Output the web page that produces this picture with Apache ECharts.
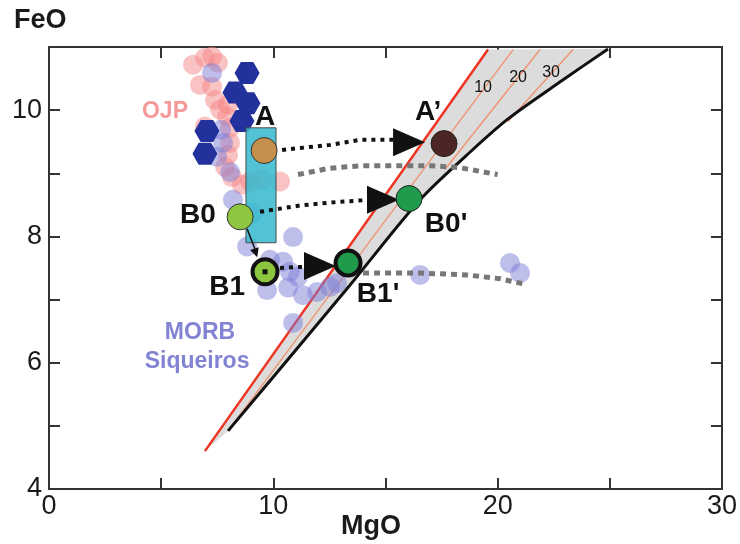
<!DOCTYPE html>
<html lang="en">
<head>
    <meta charset="UTF-8">
    <title>FeO - MgO</title>
    <script src="https://cdn.jsdelivr.net/npm/echarts@6/dist/echarts.min.js"></script>
</head>
<body style="margin:0;background:#fff">
<div id="myChart" style="width: 740px;height: 544px;"></div>
<script>
    // OJP glasses (pink)
    var ojp = [[6.42,10.72],[6.95,10.83],[7.27,10.85],[7.53,10.75],[6.73,10.40],[7.27,10.37],
        [7.40,10.16],[7.62,10.01],[7.98,10.09],[7.94,9.90],[6.95,9.74],[8.07,9.72],[8.07,9.48],
        [7.98,9.29],[7.85,9.10],[8.16,8.94],[8.60,8.82],[8.96,8.87],[9.50,8.90],[10.30,8.87]];
    // MORB Siqueiros (blue-violet)
    var morb = [[7.27,10.59],[7.67,9.69],[7.76,9.48],[7.49,9.26],[8.07,9.02],[8.20,8.58],[8.83,7.84],
        [9.09,8.37],[10.88,7.99],[9.85,7.63],[10.43,7.60],[10.74,7.44],[11.10,7.36],[9.72,7.15],
        [10.66,7.19],[11.32,7.07],[11.95,7.12],[12.53,7.20],[12.84,7.26],[10.88,6.63],[16.54,7.39],
        [20.55,7.58],[21.0,7.42]];
    // dark blue hexagons
    var hexPts = [[8.83,10.59],[8.29,10.28],[8.87,10.11],[8.60,9.83],[7.04,9.67],[6.95,9.31]];

    // olivine control lines
    var redLine = [[6.95,4.60],[19.57,10.96]];
    var blackCurve = [[7.98,4.92],[11.19,6.28],[13.42,7.23],[16.54,8.58],[18.6,9.28],[20.42,9.85],[22.92,10.48],[24.92,10.97]];
    var iso10 = [[7.98,4.92],[20.69,10.96]];
    var iso20 = [[17.65,9.06],[21.89,10.96]];
    var iso30 = [[20.46,9.82],[23.36,10.96]];
    var isoLabels = [[19.35,10.36,'10'],[20.91,10.51,'20'],[22.38,10.59,'30']];

    // box A-B0
    var boxA = [[8.78,9.72,10.12,7.90]];

    // key points
    var ptA = [9.59,9.36], ptB0 = [8.52,8.31], ptB1 = [9.63,7.44];
    var ptA2 = [17.61,9.47], ptB02 = [16.05,8.60], ptB12 = [13.33,7.58];

    // dotted paths and arrow heads
    var pathA = [[10.39,9.37],[12.53,9.45],[13.87,9.53],[15.43,9.53]];
    var pathB0 = [[9.41,8.39],[11.19,8.49],[12.97,8.55],[14.4,8.58]];
    var pathB1 = [[10.3,7.50],[11.41,7.52]];
    var heads = [[16.05,9.49],[14.89,8.58],[12.08,7.53]];
    var pathB0B1 = [[8.83,8.12],[9.18,7.80]];
    var headB0B1 = [[9.22,7.74]];

    // gray dashed trends
    var trendA = [[11.1,8.98],[12.5,9.08],[13.9,9.12],[17.0,9.12],[18.3,9.09],[20.0,8.98]];
    var trendB1 = [[14.0,7.42],[16.54,7.42],[18.64,7.39],[20.11,7.33],[21.13,7.25]];

    // annotations
    var tags = [[9.63,9.88,'A'],[16.9,9.97,'A’'],[6.64,8.34,'B0'],[17.7,8.2,"B0'"],
        [7.94,7.19,'B1'],[14.67,7.09,"B1'"]];
    var groupTags = [[5.17,9.97,'OJP','#f59a9a'],[6.73,6.47,'MORB','#8383d4'],[6.6,6.01,'Siqueiros','#8383d4']];

    var bandPoly = redLine.concat(blackCurve.slice().reverse());
    var hexagon = 'path://M5,0 L15,0 L20,8.66 L15,17.32 L5,17.32 L0,8.66 Z';

    function lineSeries(data, color, width, type, z, smooth) {
        return {
            type: 'line', data: data, showSymbol: false, symbol: 'none', silent: true, z: z,
            smooth: smooth || false,
            lineStyle: {color: color, width: width, type: type}
        };
    }

    function textSeries(data, size, weight, color) {
        return {
            type: 'scatter', silent: true, z: 12, symbolSize: 0, data: data,
            itemStyle: {opacity: 1},
            label: {show: true, position: 'inside', formatter: function (p) { return p.value[2]; },
                fontSize: size, fontWeight: weight, fontFamily: 'Liberation Sans', color: color, opacity: 1}
        };
    }

    var axisCommon = {
        axisLine: {onZero: false, lineStyle: {color: '#333', width: 2}},
        axisTick: {inside: true, length: 11, lineStyle: {color: '#333', width: 2}},
        splitLine: {show: false}
    };

    var myChart = echarts.init(document.getElementById('myChart'));
    var option = {
        animation: false,
        grid: {left: 49, right: 18, top: 47, bottom: 55},
        xAxis: [
            Object.assign({type: 'value', min: 0, max: 30, interval: 5,
                axisLabel: {fontSize: 27, color: '#1a1a1a', margin: 4, fontFamily: 'Liberation Sans',
                    formatter: function (v) { return v % 10 === 0 ? v : ''; }}}, axisCommon),
            Object.assign({type: 'value', min: 0, max: 30, interval: 5, position: 'top',
                axisLabel: {show: false}}, axisCommon)
        ],
        yAxis: [
            Object.assign({type: 'value', min: 4, max: 11, interval: 1,
                axisLabel: {fontSize: 27, color: '#1a1a1a', margin: 7, fontFamily: 'Liberation Sans',
                    formatter: function (v) { return (v % 2 === 0 && v < 11) ? v : ''; }}}, axisCommon),
            Object.assign({type: 'value', min: 4, max: 11, interval: 1, position: 'right',
                axisLabel: {show: false}}, axisCommon)
        ],
        graphic: [
            {type: 'text', left: 14, top: 7, style: {text: 'FeO', fontSize: 27, fontWeight: 'bold',
                fontFamily: 'Liberation Sans', fill: '#1a1a1a'}},
            {type: 'text', left: 341, top: 513, style: {text: 'MgO', fontSize: 27, fontWeight: 'bold',
                fontFamily: 'Liberation Sans', fill: '#1a1a1a'}}
        ],
        series: [
            {
                type: 'custom', silent: true, z: 1, data: [0],
                renderItem: function (params, api) {
                    var pts = bandPoly.map(function (p) { return api.coord(p); });
                    return {type: 'polygon', shape: {points: pts}, style: {fill: '#dcdcdc'}};
                }
            },
            lineSeries(iso10, '#f0906e', 1.3, 'solid', 2),
            lineSeries(iso20, '#f0906e', 1.3, 'solid', 2),
            lineSeries(iso30, '#f0906e', 1.3, 'solid', 2),
            lineSeries(redLine, '#ee3322', 2.5, 'solid', 3),
            lineSeries(blackCurve, '#111', 3, 'solid', 3, 0.3),
            {
                type: 'scatter', data: ojp, symbolSize: 20, silent: true, z: 4,
                itemStyle: {color: 'rgba(245,130,130,0.48)', opacity: 1}
            },
            {
                type: 'scatter', data: morb, symbolSize: 20, silent: true, z: 4,
                itemStyle: {color: 'rgba(125,125,215,0.5)', opacity: 1}
            },
            {
                type: 'scatter', data: hexPts, symbol: hexagon, symbolSize: [25, 22], silent: true, z: 5,
                itemStyle: {color: '#22319b', opacity: 1}
            },
            {
                type: 'custom', silent: true, z: 6, data: boxA,
                renderItem: function (params, api) {
                    var p0 = api.coord([api.value(0), api.value(1)]);
                    var p1 = api.coord([api.value(2), api.value(3)]);
                    return {type: 'rect', shape: {x: p0[0], y: p0[1], width: p1[0] - p0[0], height: p1[1] - p0[1]},
                        style: {fill: 'rgba(55,186,206,0.87)', stroke: '#4a4a4a', lineWidth: 1}};
                }
            },
            lineSeries(trendA, '#777', 5, [6, 5], 7),
            lineSeries(trendB1, '#777', 5, [6, 5], 7),
            lineSeries(pathA, '#111', 4, [4, 5], 8),
            lineSeries(pathB0, '#111', 4, [4, 5], 8),
            lineSeries(pathB1, '#111', 4, [4, 5], 8),
            lineSeries(pathB0B1, '#111', 1.5, 'solid', 8),
            {
                type: 'scatter', data: heads, symbol: 'triangle', symbolRotate: -90, symbolSize: [28, 32],
                silent: true, z: 9, itemStyle: {color: '#111', opacity: 1}
            },
            {
                type: 'scatter', data: headB0B1, symbol: 'triangle', symbolRotate: 198, symbolSize: [9, 9],
                silent: true, z: 9, itemStyle: {color: '#111', opacity: 1}
            },
            {
                type: 'scatter', silent: true, z: 10, symbolSize: 26,
                data: [
                    {value: ptA, itemStyle: {color: '#c4904b', borderColor: '#333', borderWidth: 1, opacity: 1}},
                    {value: ptB0, itemStyle: {color: '#8fc641', borderColor: '#333', borderWidth: 1, opacity: 1}},
                    {value: ptA2, itemStyle: {color: '#4b2624', borderColor: '#222', borderWidth: 1, opacity: 1}},
                    {value: ptB02, itemStyle: {color: '#1f9b4b', borderColor: '#222', borderWidth: 1, opacity: 1}},
                    {value: ptB1, symbolSize: 25, itemStyle: {color: '#8cc63f', borderColor: '#111', borderWidth: 4, opacity: 1}},
                    {value: ptB12, symbolSize: 25, itemStyle: {color: '#1f9b4b', borderColor: '#111', borderWidth: 4, opacity: 1}}
                ]
            },
            {
                type: 'scatter', silent: true, z: 11, symbol: 'rect', symbolSize: 5,
                data: [ptB1], itemStyle: {color: '#111', opacity: 1}
            },
            textSeries(tags, 28, 'bold', '#111'),
            textSeries(isoLabels, 16, 'normal', '#111'),
            {
                type: 'scatter', silent: true, z: 12, symbolSize: 0,
                itemStyle: {opacity: 1},
                data: groupTags.map(function (t) {
                    return {value: [t[0], t[1], t[2]], label: {color: t[3]}};
                }),
                label: {show: true, position: 'inside', formatter: function (p) { return p.value[2]; },
                    fontSize: 23, fontWeight: 'bold', fontFamily: 'Liberation Sans', opacity: 1}
            }
        ]
    };
    myChart.setOption(option);
</script>
</body>
</html>
